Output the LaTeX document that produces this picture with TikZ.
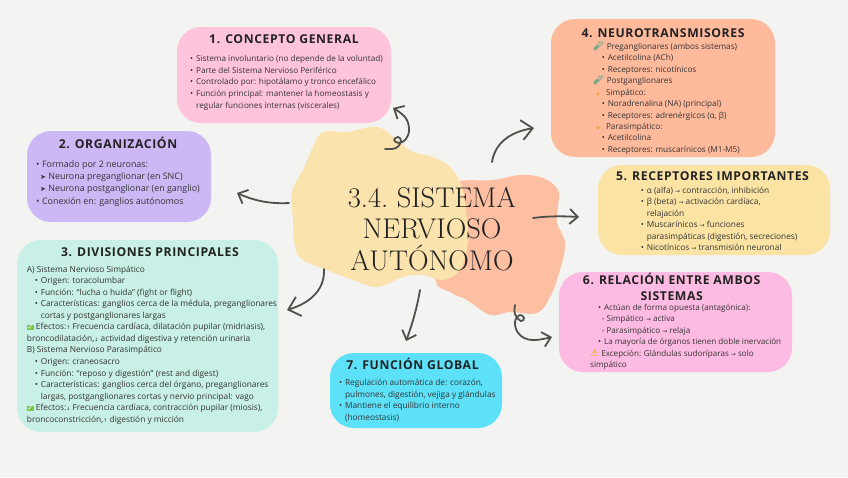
\documentclass[tikz,border=0pt]{standalone}
\usepackage{fontspec}
\usepackage{xcolor}
\setsansfont{Open Sans}
\newfontfamily\headfont[LetterSpace=5]{Open Sans}
\newfontfamily\symfont{DejaVu Sans}
\newfontfamily\emofont{Noto Emoji}
\definecolor{PAPERbg}{HTML}{F3F3F1}
\definecolor{INKdark}{HTML}{222222}
\definecolor{INKbody}{HTML}{333333}
\definecolor{ARROWgray}{HTML}{50504A}
\definecolor{BLOByellow}{HTML}{FAE3AC}
\definecolor{BLOBsalmon}{HTML}{FDBFA2}
\definecolor{BOXpink}{HTML}{FFC4DC}
\definecolor{BOXlilac}{HTML}{CDB8F6}
\definecolor{BOXmint}{HTML}{C8F0E6}
\definecolor{BOXsalmon}{HTML}{FFBA9C}
\definecolor{BOXyellow}{HTML}{FBE3A4}
\definecolor{BOXrose}{HTML}{FDBAE2}
\definecolor{BOXcyan}{HTML}{5CE1F9}
\definecolor{CHKgreen}{HTML}{7CC74A}
\definecolor{WARNamber}{HTML}{F2B01E}
\definecolor{TUBEteal}{HTML}{1F9F85}
\definecolor{DOTorange}{HTML}{F9A03F}
\newcommand{\bul}[1]{\hspace*{#1}\makebox[5.9pt][l]{•}}
\newcommand{\arrto}{{\symfont\fontsize{6}{6}\selectfont →}}
\newcommand{\arrup}{{\symfont\fontsize{5}{5}\selectfont ↑}}
\newcommand{\arrdn}{{\symfont\fontsize{5}{5}\selectfont ↓}}
\newcommand{\chkbox}{{\fboxsep=0.5pt\colorbox{CHKgreen}{\textcolor{white}{\symfont\fontsize{7}{7}\selectfont ✓}}}}
\newcommand{\warnicon}{\textcolor{WARNamber}{\symfont\fontsize{10}{10}\selectfont ⚠}}
\newcommand{\tubeicon}{\textcolor{TUBEteal}{\emofont\bfseries\fontsize{9}{9}\selectfont 🧪}}
\newcommand{\dothere}{\textcolor{DOTorange}{\symfont\fontsize{5}{5}\selectfont ◆}}
\usetikzlibrary{arrows.meta, positioning}

\begin{document}
\begin{tikzpicture}[x=1pt, y=-1pt,
      box/.style={rectangle, rounded corners=24pt, inner sep=0pt},
      ttl/.style={font=\headfont\bfseries\fontsize{12.2}{16}\selectfont, INKdark, align=center, inner sep=0pt},
      txt/.style={font=\sffamily\fontsize{8.35}{11.55}\selectfont, INKbody, align=left, anchor=north west, inner sep=0pt},
      arr/.style={ARROWgray, line width=1.8pt, line cap=round, line join=round,
                  -{Straight Barb[length=8pt, width=15pt, line width=1.8pt]}},
      arrbig/.style={arr, -{Straight Barb[length=11pt, width=20pt, line width=1.8pt]}}]
      \useasboundingbox (0,0) rectangle (848,477);
      \fill[PAPERbg] (0,0) rectangle (848,477);
      % Central blobs
      \fill[BLOBsalmon] plot[smooth cycle, tension=0.6] coordinates {(445,190) (460,181) (493,180) (520,175) (543,178) (558,190) (558,207) (557,223) (565,243) (560,270) (550,297) (537,313) (510,312) (490,315) (467,300) (450,292) (435,275)};
      \fill[BLOByellow] plot[smooth cycle, tension=0.6] coordinates {(323,132) (347,132) (377,127) (397,140) (413,152) (433,157) (450,167) (462,187) (467,220) (468,243) (460,270) (443,280) (423,275) (403,277) (377,287) (353,280) (327,270) (303,260) (295,247) (293,220) (292,192) (303,170) (313,147)};
      \node[font=\rmfamily\frenchspacing\fontsize{28.5}{31.5}\selectfont, text=INKdark, align=center, inner sep=0pt] (main) at (432,229) {3.4. SISTEMA\\NERVIOSO\\AUT\'ONOMO};
      % Boxes
      \node[box, fill=BOXpink, minimum width=214pt, minimum height=96pt] (concepto) at (284,75) {};
      \node[box, fill=BOXlilac, minimum width=184pt, minimum height=91pt] (organiza) at (119,176.5) {};
      \node[box, fill=BOXmint, minimum width=261pt, minimum height=192pt] (divis) at (147.5,336) {};
      \node[box, fill=BOXsalmon, minimum width=224pt, minimum height=138pt] (neuro) at (663,88) {};
      \node[box, fill=BOXyellow, minimum width=232pt, minimum height=90pt] (recep) at (714,210) {};
      \node[box, fill=BOXrose, minimum width=233pt, minimum height=100pt] (relac) at (675.5,322) {};
      \node[box, fill=BOXcyan, minimum width=172pt, minimum height=75pt] (funcion) at (416,390.5) {};
      % Titles
      \node[ttl] (t1) at (284,39) {1. CONCEPTO GENERAL};
      \node[ttl] (t2) at (118,143) {2. ORGANIZACI\'ON};
      \node[ttl] (t3) at (150,252) {3. DIVISIONES PRINCIPALES};
      \node[ttl] (t4) at (663,33) {4. NEUROTRANSMISORES};
      \node[ttl] (t5) at (712.5,176) {5. RECEPTORES IMPORTANTES};
      \node[ttl] (t6) at (671.7,287) {6. RELACI\'ON ENTRE AMBOS\\SISTEMAS};
      \node[ttl] (t7) at (412.5,364) {7. FUNCI\'ON GLOBAL};
      % Body texts
      \node[txt, font=\sffamily\fontsize{8.15}{11.55}\selectfont] (b1) at (190,55.5) {\bul{0pt}Sistema involuntario (no depende de la voluntad)\\
        \bul{0pt}Parte del Sistema Nervioso Perif\'erico\\
        \bul{0pt}Controlado por: hipot\'alamo y tronco encef\'alico\\
        \bul{0pt}Funci\'on principal: mantener la homeostasis y\\
        \hspace*{5.9pt}regular funciones internas (viscerales)};
      \node[txt, font=\sffamily\fontsize{8.9}{12.2}\selectfont] (b2) at (36,160.5) {\bul{0pt}Formado por 2 neuronas:\\
        \hspace*{4pt}{\symfont\fontsize{7}{7}\selectfont ➤} Neurona preganglionar (en SNC)\\
        \hspace*{4pt}{\symfont\fontsize{7}{7}\selectfont ➤} Neurona postganglionar (en ganglio)\\
        \bul{0pt}Conexi\'on en: ganglios aut\'onomos};
      \node[txt] (b3) at (26.7,265.5) {A) Sistema Nervioso Simp\'atico\\
        \bul{8pt}Origen: toracolumbar\\
        \bul{8pt}Funci\'on: ``lucha o huida'' (fight or flight)\\
        \bul{8pt}Caracter\'isticas: ganglios cerca de la m\'edula, preganglionares\\
        \hspace*{13.9pt}cortas y postganglionares largas\\
        \chkbox{} Efectos:\arrup{} Frecuencia card\'iaca, dilataci\'on pupilar (midriasis),\\
        broncodilataci\'on,\arrdn{} actividad digestiva y retenci\'on urinaria\\
        B) Sistema Nervioso Parasimp\'atico\\
        \bul{8pt}Origen: craneosacro\\
        \bul{8pt}Funci\'on: ``reposo y digesti\'on'' (rest and digest)\\
        \bul{8pt}Caracter\'isticas: ganglios cerca del \'organo, preganglionares\\
        \hspace*{13.9pt}largas, postganglionares cortas y nervio principal: vago\\
        \chkbox{} Efectos:\arrdn{} Frecuencia card\'iaca, contracci\'on pupilar (miosis),\\
        broncoconstricci\'on,\arrup{} digesti\'on y micci\'on};
      \node[txt, font=\sffamily\fontsize{8.2}{11.45}\selectfont] (b4) at (593,41.5) {\tubeicon{} Preganglionares (ambos sistemas)\\
        \bul{8.7pt}Acetilcolina (ACh)\\
        \bul{8.7pt}Receptores: nicot\'inicos\\
        \tubeicon{} Postganglionares\\
        \hspace*{3pt}\dothere{}\hspace*{6pt}Simp\'atico:\\
        \bul{8.7pt}Noradrenalina (NA) (principal)\\
        \bul{8.7pt}Receptores: adren\'ergicos (α, β)\\
        \hspace*{3pt}\dothere{}\hspace*{6pt}Parasimp\'atico:\\
        \bul{8.7pt}Acetilcolina\\
        \bul{8.7pt}Receptores: muscar\'inicos (M1-M5)};
      \node[txt, font=\sffamily\fontsize{8.3}{11.55}\selectfont] (b5) at (640.7,186.5) {\bul{0pt}α (alfa) \arrto{} contracci\'on, inhibici\'on\\
        \bul{0pt}β (beta) \arrto{} activaci\'on card\'iaca,\\
        \hspace*{5.9pt}relajaci\'on\\
        \bul{0pt}Muscar\'inicos \arrto{} funciones\\
        \hspace*{5.9pt}parasimp\'aticas (digesti\'on, secreciones)\\
        \bul{0pt}Nicot\'inicos \arrto{} transmisi\'on neuronal};
      \node[txt, font=\sffamily\fontsize{8.1}{11.4}\selectfont] (b6) at (590,304) {\bul{8pt}Act\'uan de forma opuesta (antag\'onica):\\
        \hspace*{11.7pt}- Simp\'atico \arrto{} activa\\
        \hspace*{11.7pt}- Parasimp\'atico \arrto{} relaja\\
        \bul{8pt}La mayor\'ia de \'organos tienen doble inervaci\'on\\
        \warnicon{} Excepci\'on: Gl\'andulas sudor\'iparas \arrto{} solo\\
        simp\'atico};
      \node[txt, font=\sffamily\fontsize{8.3}{11.55}\selectfont] (b7) at (339,379) {\bul{0pt}Regulaci\'on autom\'atica de: coraz\'on,\\
        \hspace*{5.9pt}pulmones, digesti\'on, vejiga y gl\'andulas\\
        \bul{0pt}Mantiene el equilibrio interno\\
        \hspace*{5.9pt}(homeostasis)};
      % Arrow ends
      \coordinate (s1) at (385,149);
      \coordinate (e1) at (393,108);
      \coordinate (s2) at (289,203);
      \coordinate (e2) at (237,193);
      \coordinate (s3) at (324,269);
      \coordinate (e3) at (287,310);
      \coordinate (s4) at (492,162);
      \coordinate (e4) at (534,128);
      \coordinate (s5) at (533,218);
      \coordinate (e5) at (579,217);
      \coordinate (s6) at (515,305);
      \coordinate (e6) at (552,337);
      \coordinate (s7) at (420,290);
      \coordinate (e7) at (406,341);
      % Arrows
      \draw[arr] plot[smooth, tension=0.7] coordinates {(s1) (396,148) (401,141) (398,137) (394,140) (399,143) (406,139) (409,129) (405,117) (e1)};
      \draw[arr] (s2) .. controls (270,204) and (255,201) .. (e2);
      \draw[arrbig] (s3) .. controls (325,290) and (310,303) .. (e3);
      \draw[arrbig] (s4) .. controls (495,143) and (510,132) .. (e4);
      \draw[arr] (s5) .. controls (548,216) and (562,216) .. (e5);
      \draw[arr] plot[smooth, tension=0.7] coordinates {(s6) (515,314) (521,321) (524,318) (520,315) (515,322) (519,334) (532,340) (e6)};
      \draw[arr] (s7) .. controls (417,308) and (412,325) .. (e7);
   \end{tikzpicture}
\end{document}
